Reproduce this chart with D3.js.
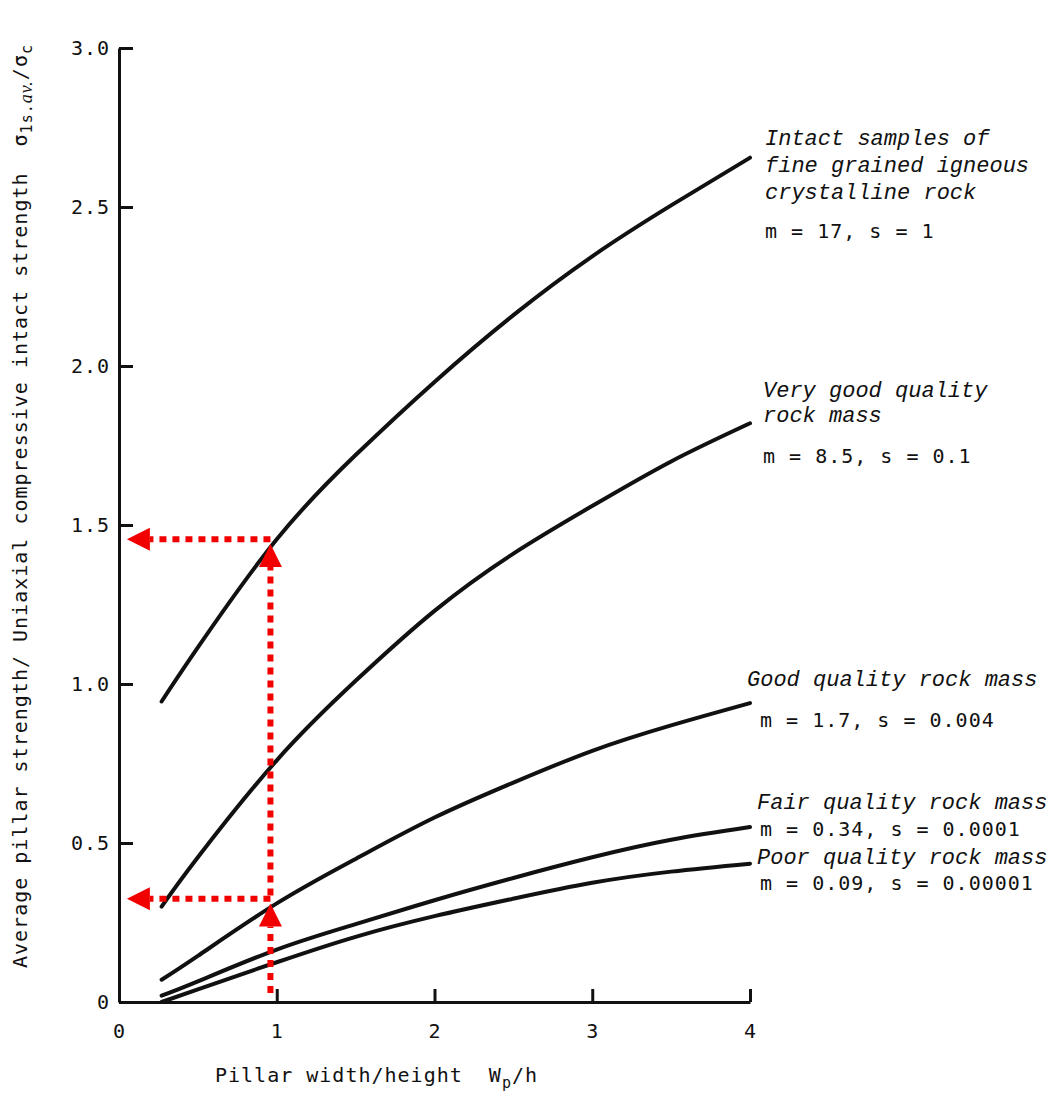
<!DOCTYPE html>
<meta charset="utf-8">
<style>
body { margin: 0; background: #fff; }
.mono { font-family: "DejaVu Sans Mono", monospace; font-size: 20px; letter-spacing: 1px; fill: #111; }
.ital { font-family: "Liberation Mono", monospace; font-style: italic; font-size: 22px; fill: #111; }
.axis path, .axis line { stroke: #111; stroke-width: 3px; }
.axis text { font-family: "DejaVu Sans Mono", monospace; font-size: 20px; letter-spacing: 1px; fill: #111; }
.curve { fill: none; stroke: #111; stroke-width: 4px; stroke-linecap: round; }
</style>
<body>
<script src="https://cdn.jsdelivr.net/npm/d3@7"></script>
<script>
// pillar width / height
var ratios = [0.27, 0.5, 1, 1.5, 2, 2.5, 3, 3.5, 4];

// average pillar strength / uniaxial compressive strength
var intact   = [0.945, 1.115, 1.455, 1.72, 1.95, 2.16, 2.345, 2.505, 2.655];
var veryGood = [0.30, 0.455, 0.76, 1.01, 1.23, 1.41, 1.56, 1.70, 1.82];
var good     = [0.07, 0.145, 0.31, 0.45, 0.58, 0.69, 0.79, 0.87, 0.94];
var fair     = [0.02, 0.065, 0.165, 0.245, 0.32, 0.39, 0.455, 0.51, 0.55];
var poor     = [0.0, 0.04, 0.125, 0.205, 0.27, 0.325, 0.375, 0.41, 0.435];

var titles = [
  ["Intact samples of", "fine grained igneous", "crystalline rock"],
  ["Very good quality", "rock mass"],
  ["Good quality rock mass"],
  ["Fair quality rock mass"],
  ["Poor quality rock mass"]
];
var params = ["m = 17, s = 1", "m = 8.5, s = 0.1", "m = 1.7, s = 0.004",
              "m = 0.34, s = 0.0001", "m = 0.09, s = 0.00001"];

var yTicks = [0, 0.5, 1, 1.5, 2, 2.5, 3];
var yTickLabels = ["0", "0.5", "1.0", "1.5", "2.0", "2.5", "3.0"];
var xTicks = [0, 1, 2, 3, 4];

// worked example (red arrows)
var readX = 0.96;
var readLevels = [0.325, 1.455];
var arrowFrom = [0.028, 0.335];
var arrowTo = [0.31, 1.44];
var arrowTipX = 0.05;

// label layout (pixels)
var labelLayout = [
  { x: 765, y: [145, 172, 199], mx: 765, my: 238 },
  { x: 763, y: [397, 422], mx: 763, my: 463 },
  { x: 747, y: [686], mx: 760, my: 727 },
  { x: 757, y: [809], mx: 760, my: 836 },
  { x: 757, y: [864], mx: 760, my: 890 }
];

var width = 1055, height = 1103;
var svg = d3.select("body").append("svg")
  .attr("width", width)
  .attr("height", height);

var x = d3.scaleLinear().domain([0, 4]).range([119, 750]);
var y = d3.scaleLinear().domain([0, 3]).range([1002, 48]);

// axes
svg.append("g")
  .attr("class", "axis")
  .attr("transform", "translate(" + x(0) + ",0)")
  .call(d3.axisLeft(y).tickValues(yTicks).tickSize(-14).tickSizeOuter(0).tickPadding(9)
    .tickFormat(function(d, i) { return yTickLabels[i]; }));

svg.append("g")
  .attr("class", "axis")
  .attr("transform", "translate(0," + y(0) + ")")
  .call(d3.axisBottom(x).tickValues(xTicks).tickSize(-13).tickSizeOuter(0).tickPadding(22)
    .tickFormat(d3.format("d")))
  .selectAll(".tick line").filter(function(d) { return d === 0; }).remove();

// curves
var series = [intact, veryGood, good, fair, poor];
var line = d3.line()
  .x(function(d, i) { return x(ratios[i]); })
  .y(function(d) { return y(d); })
  .curve(d3.curveNatural);

svg.selectAll(".curve")
  .data(series)
  .enter().append("path")
  .attr("class", "curve")
  .attr("d", line);

// curve labels
titles.forEach(function(lines, k) {
  var L = labelLayout[k];
  lines.forEach(function(t, j) {
    svg.append("text").attr("class", "ital")
      .attr("x", L.x).attr("y", L.y[j]).text(t);
  });
  svg.append("text").attr("class", "mono")
    .attr("x", L.mx).attr("y", L.my).text(params[k]);
});

// axis titles
var xl = svg.append("text").attr("class", "mono")
  .attr("x", 215).attr("y", 1082)
  .style("white-space", "pre");
xl.append("tspan").text("Pillar width/height  W");
xl.append("tspan").attr("dy", 6).style("font-size", "15px").text("p");
xl.append("tspan").attr("dy", -6).text("/h");

var yl = svg.append("text").attr("class", "mono")
  .attr("transform", "translate(27,968) rotate(-90)")
  .style("white-space", "pre");
yl.append("tspan").text("Average pillar strength/ Uniaxial compressive intact strength  \u03c3");
yl.append("tspan").attr("dy", 5).style("font-size", "15px").text("1s.");
yl.append("tspan").style("font-family", "Liberation Serif").style("font-style", "italic")
  .style("font-size", "18px").text("av.");
yl.append("tspan").attr("dy", -5).text("/\u03c3");
yl.append("tspan").attr("dy", 5).style("font-size", "15px").text("c");

// red dotted read-off arrows
var red = "#f20000";
var head = 23, half = 11.5;
var arrows = svg.append("g");

function dotted(x1, y1, x2, y2) {
  arrows.append("line")
    .attr("x1", x1).attr("y1", y1).attr("x2", x2).attr("y2", y2)
    .attr("stroke", red).attr("stroke-width", 6)
    .attr("stroke-dasharray", "7,6");
}

readLevels.forEach(function(v, i) {
  // vertical, pointing up
  var vx = x(readX), tip = y(arrowTo[i]);
  dotted(vx, y(arrowFrom[i]), vx, tip + head);
  arrows.append("path").attr("fill", red)
    .attr("d", "M" + vx + "," + tip + "L" + (vx - half) + "," + (tip + head) +
               "L" + (vx + half) + "," + (tip + head) + "Z");
  // horizontal, pointing left to the axis
  var hy = y(v), hx = x(arrowTipX);
  dotted(vx, hy, hx + head, hy);
  arrows.append("path").attr("fill", red)
    .attr("d", "M" + hx + "," + hy + "L" + (hx + head) + "," + (hy - half) +
               "L" + (hx + head) + "," + (hy + half) + "Z");
});
</script>
</body>
